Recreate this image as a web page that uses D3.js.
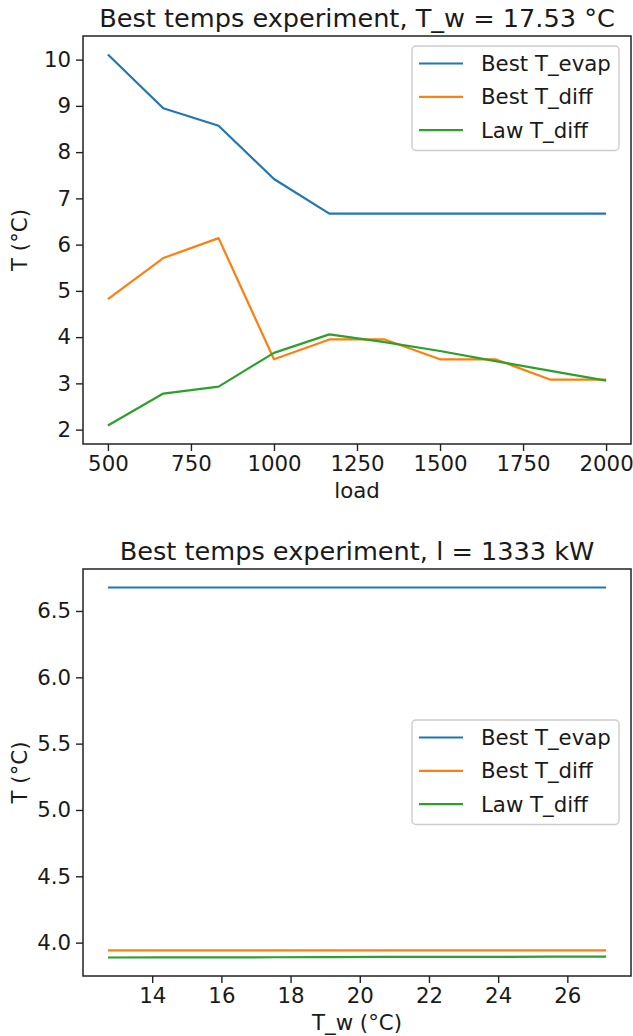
<!DOCTYPE html>
<html>
<head>
<meta charset="utf-8">
<script src="https://cdn.jsdelivr.net/npm/d3@7"></script>
<style>
  html, body { margin: 0; padding: 0; background: #fff; }
  svg { display: block; font-family: "DejaVu Sans", sans-serif; }
</style>
</head>
<body>
<svg id="chart" width="633" height="1036"></svg>
<script>
// Load sweep at fixed water temperature
const loads = [500, 666.7, 833.3, 1000, 1166.7, 1333.3, 1500, 1666.7, 1833.3, 2000];
const loadBestEvap = [10.11, 8.95, 8.57, 7.42, 6.67, 6.67, 6.67, 6.67, 6.67, 6.67];
const loadBestDiff = [4.82, 5.71, 6.14, 3.52, 3.95, 3.95, 3.52, 3.52, 3.08, 3.08];
const loadLawDiff  = [2.09, 2.78, 2.93, 3.66, 4.06, 3.89, 3.70, 3.48, 3.27, 3.06];
const loadTicks = [500, 750, 1000, 1250, 1500, 1750, 2000];
const loadYTicks = [2, 3, 4, 5, 6, 7, 8, 9, 10];

// Water temperature sweep at fixed load
const waterTemps = [12.72, 14.32, 15.92, 17.52, 19.12, 20.72, 22.32, 23.92, 25.52, 27.12];
const twBestEvap = [6.677, 6.677, 6.677, 6.677, 6.677, 6.677, 6.677, 6.677, 6.677, 6.677];
const twBestDiff = [3.942, 3.942, 3.942, 3.942, 3.942, 3.942, 3.942, 3.942, 3.942, 3.942];
const twLawDiff  = [3.888, 3.889, 3.889, 3.890, 3.891, 3.892, 3.892, 3.893, 3.894, 3.895];
const twTicks = [14, 16, 18, 20, 22, 24, 26];
const twYTicks = [4.0, 4.5, 5.0, 5.5, 6.0, 6.5];

const seriesNames = ["Best T_evap", "Best T_diff", "Law T_diff"];
const colors = ["#1f77b4", "#ff7f0e", "#2ca02c"];

const FS = 21.3;      // tick, label and legend text
const FS_TITLE = 25.6;

const svg = d3.select("#chart");

function panel(opts) {
  const { left, right, top, bottom, xs, ys, xTicks, yTicks, yFmt, title, xLabel, legendTop } = opts;
  const g = svg.append("g");

  // Axis limits with 5% padding on the data range
  const xExt = d3.extent(xs);
  const yExt = d3.extent(ys.flat());
  const xPad = (xExt[1] - xExt[0]) * 0.05;
  const yPad = (yExt[1] - yExt[0]) * 0.05;
  const x = d3.scaleLinear().domain([xExt[0] - xPad, xExt[1] + xPad]).range([left, right]);
  const y = d3.scaleLinear().domain([yExt[0] - yPad, yExt[1] + yPad]).range([bottom, top]);

  // Series lines
  const line = d3.line().x(d => x(d[0])).y(d => y(d[1]));
  ys.forEach((vals, i) => {
    g.append("path")
      .datum(xs.map((v, j) => [v, vals[j]]))
      .attr("d", line)
      .attr("fill", "none")
      .attr("stroke", colors[i])
      .attr("stroke-width", 2.2)
      .attr("stroke-linejoin", "round");
  });

  // Axes
  const xAxis = d3.axisBottom(x).tickValues(xTicks).tickSize(7).tickPadding(5).tickFormat(d3.format("d"));
  const yAxis = d3.axisLeft(y).tickValues(yTicks).tickSize(7).tickPadding(5).tickFormat(yFmt);
  const gx = g.append("g").attr("transform", `translate(0,${bottom})`).call(xAxis);
  const gy = g.append("g").attr("transform", `translate(${left},0)`).call(yAxis);
  [gx, gy].forEach(a => {
    a.select(".domain").remove();
    a.selectAll(".tick line").attr("stroke", "#222").attr("stroke-width", 1.4);
    a.selectAll(".tick text").attr("fill", "#1a1a1a").attr("font-size", FS)
      .attr("font-family", "DejaVu Sans, sans-serif");
  });

  // Frame
  g.append("rect")
    .attr("x", left).attr("y", top)
    .attr("width", right - left).attr("height", bottom - top)
    .attr("fill", "none").attr("stroke", "#222").attr("stroke-width", 1.5);

  // Title and labels
  g.append("text")
    .attr("x", (left + right) / 2).attr("y", top - 9)
    .attr("text-anchor", "middle").attr("font-size", FS_TITLE).attr("fill", "#1a1a1a")
    .text(title);
  g.append("text")
    .attr("x", (left + right) / 2).attr("y", bottom + 54)
    .attr("text-anchor", "middle").attr("font-size", FS).attr("fill", "#1a1a1a")
    .text(xLabel);
  g.append("text")
    .attr("transform", `translate(27,${(top + bottom) / 2}) rotate(-90)`)
    .attr("text-anchor", "middle").attr("font-size", FS).attr("fill", "#1a1a1a")
    .text("T (°C)");

  // Legend
  const lx = 412, lw = 207, lh = 104.5;
  const lg = g.append("g");
  lg.append("rect")
    .attr("x", lx).attr("y", legendTop).attr("width", lw).attr("height", lh)
    .attr("rx", 4).attr("fill", "rgba(255,255,255,0.8)")
    .attr("stroke", "#cccccc").attr("stroke-width", 1.4);
  seriesNames.forEach((name, i) => {
    const cy = legendTop + 17.5 + i * 33.3;
    lg.append("line")
      .attr("x1", lx + 7).attr("x2", lx + 51).attr("y1", cy).attr("y2", cy)
      .attr("stroke", colors[i]).attr("stroke-width", 2.2);
    lg.append("text")
      .attr("x", lx + 69).attr("y", cy).attr("dy", "0.36em")
      .attr("font-size", FS).attr("fill", "#1a1a1a")
      .text(name);
  });
}

panel({
  left: 83, right: 631, top: 36, bottom: 444,
  xs: loads, ys: [loadBestEvap, loadBestDiff, loadLawDiff],
  xTicks: loadTicks, yTicks: loadYTicks, yFmt: d3.format("d"),
  title: "Best temps experiment, T_w = 17.53 °C", xLabel: "load",
  legendTop: 46
});

panel({
  left: 83, right: 631, top: 569, bottom: 976,
  xs: waterTemps, ys: [twBestEvap, twBestDiff, twLawDiff],
  xTicks: twTicks, yTicks: twYTicks, yFmt: d3.format(".1f"),
  title: "Best temps experiment, l = 1333 kW", xLabel: "T_w (°C)",
  legendTop: 720
});
</script>
</body>
</html>
